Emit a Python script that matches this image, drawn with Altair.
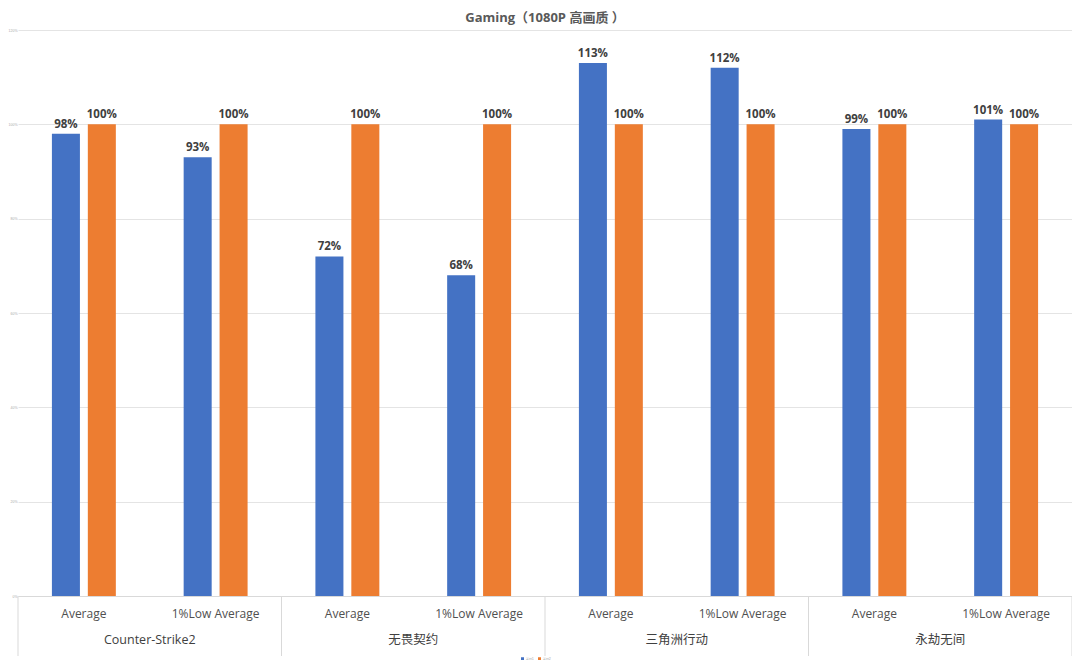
import altair as alt
import pandas as pd

# ---------------------------------------------------------------------------
# Data
# ---------------------------------------------------------------------------
games = ["Counter-Strike2", "无畏契约", "三角洲行动", "永劫无间"]
metrics = ["Average", "1%Low Average"]
series_names = ["系列1", "系列2"]
blue_values = [98, 93, 72, 68, 113, 112, 99, 101]
orange_values = [100, 100, 100, 100, 100, 100, 100, 100]
y_ticks = [0, 20, 40, 60, 80, 100, 120]

keys = [f"{g}|{m}" for g in games for m in metrics]

rows = []
for k, b, o in zip(keys, blue_values, orange_values):
    rows.append({"key": k, "series": series_names[0], "value": b})
    rows.append({"key": k, "series": series_names[1], "value": o})
df = pd.DataFrame(rows)

group_df = pd.DataFrame({"key": keys[0::2], "game": games})
sep_start = pd.DataFrame({"key": keys[0::2]})
sep_end = pd.DataFrame({"key": [keys[-1]]})

W, H = 1054, 566
FONT = "'Open Sans', 'Noto Sans CJK SC'"
TXT = "#595959"

x_scale = alt.Scale(domain=keys, paddingInner=0, paddingOuter=0)
off_scale = alt.Scale(domain=series_names, paddingInner=0.22, paddingOuter=0.944)
y_scale = alt.Scale(domain=[0, 120], nice=False)

base = alt.Chart(df).encode(
    x=alt.X("key:N", scale=x_scale, title=None,
            axis=alt.Axis(labelExpr="split(datum.label, '|')[1]", labelAngle=0,
                          ticks=False, domainColor="#d9d9d9", labelPadding=12,
                          labelFontSize=12, labelColor="#505050", labelFont=FONT)),
    xOffset=alt.XOffset("series:N", scale=off_scale),
    y=alt.Y("value:Q", scale=y_scale, title=None,
            axis=alt.Axis(values=y_ticks, labelExpr="datum.value + '%'",
                          labelFontSize=3.5, labelColor="#aaaaaa", domain=False,
                          ticks=False, gridColor="#e4e4e4", labelPadding=1)),
)

bars = base.mark_bar().encode(
    color=alt.Color("series:N",
                    scale=alt.Scale(domain=series_names, range=["#4472C4", "#ED7D31"]),
                    legend=alt.Legend(orient="none", legendX=502, legendY=626,
                                      direction="horizontal", title=None,
                                      symbolType="square", symbolSize=9,
                                      labelFontSize=3, labelColor="#999999",
                                      columnPadding=3, labelOffset=1))
)

labels = base.mark_text(baseline="bottom", dy=-4, fontSize=11.5, fontWeight="bold",
                        color="#404040", font=FONT).transform_calculate(
    lbl="datum.value + '%'"
).encode(text="lbl:N")

group_text = alt.Chart(group_df).mark_text(fontSize=12.5, color="#404040", font=FONT,
                                           baseline="middle").encode(
    x=alt.X("key:N", scale=x_scale, bandPosition=1),
    y=alt.value(H + 44),
    text="game:N",
)

sep_a = alt.Chart(sep_start).mark_rule(color="#d9d9d9", strokeWidth=1).encode(
    x=alt.X("key:N", scale=x_scale, bandPosition=0),
    y=alt.value(H),
    y2=alt.value(H + 60),
)
sep_b = alt.Chart(sep_end).mark_rule(color="#d9d9d9", strokeWidth=1).encode(
    x=alt.X("key:N", scale=x_scale, bandPosition=1),
    y=alt.value(H),
    y2=alt.value(H + 60),
)

chart = alt.layer(bars, labels, group_text, sep_a, sep_b).properties(
    width=W,
    height=H,
    padding={"left": 10, "top": 22, "right": 0, "bottom": 64},
    autosize=alt.AutoSizeParams(type="none"),
    title=alt.TitleParams("Gaming（1080P 高画质 ）", fontSize=13, fontWeight="bold",
                          color=TXT, font=FONT, offset=3, anchor="middle", frame="group"),
).configure_view(stroke=None).configure_axisX(grid=False)

chart.save("out.html", embed_options={"renderer": "svg", "actions": False})
